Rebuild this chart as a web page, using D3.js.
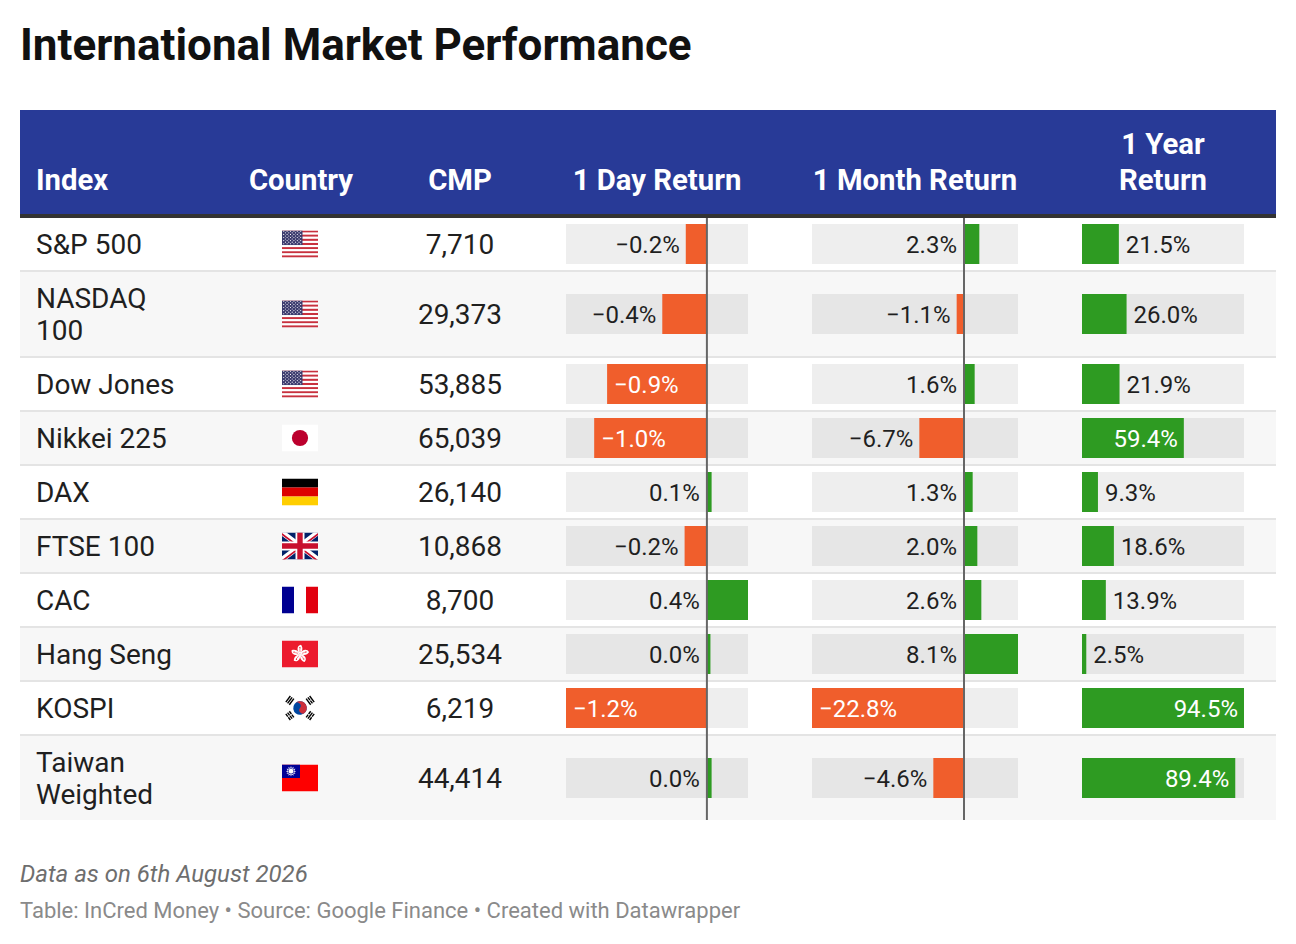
<!DOCTYPE html>
<html>
<head>
<meta charset="utf-8">
<script src="https://cdn.jsdelivr.net/npm/d3@7/dist/d3.min.js"></script>
<style>
  html, body { margin: 0; padding: 0; background: #ffffff; }
  svg { display: block; font-family: Roboto, "Noto Sans", sans-serif; }
</style>
</head>
<body>
<svg id="chart" width="1296" height="944"></svg>
<script>
// ---------------- DATA ----------------
const titleText = "International Market Performance";
const headers = ["Index", "Country", "CMP", "1 Day Return", "1 Month Return", "1 Year Return"];
const indices = ["S&P 500", "NASDAQ 100", "Dow Jones", "Nikkei 225", "DAX", "FTSE 100", "CAC", "Hang Seng", "KOSPI", "Taiwan Weighted"];
const countries = ["US", "US", "US", "JP", "DE", "GB", "FR", "HK", "KR", "TW"];
const cmp = [7710, 29373, 53885, 65039, 26140, 10868, 8700, 25534, 6219, 44414];
// 1-day bar values and their printed labels
const dayReturn = [-0.18, -0.38, -0.85, -0.96, 0.04, -0.19, 0.35, 0.03, -1.2, 0.04];
const dayLabels = ["−0.2%", "−0.4%", "−0.9%", "−1.0%", "0.1%", "−0.2%", "0.4%", "0.0%", "−1.2%", "0.0%"];
const monthReturn = [2.3, -1.1, 1.6, -6.7, 1.3, 2.0, 2.6, 8.1, -22.8, -4.6];
const yearReturn = [21.5, 26.0, 21.9, 59.4, 9.3, 18.6, 13.9, 2.5, 94.5, 89.4];
const notes = "Data as on 6th August 2026";
const sourceText = "Table: InCred Money • Source: Google Finance • Created with Datawrapper";

// ---------------- STYLE / LAYOUT ----------------
const svg = d3.select("#chart");
const tableL = 20, tableR = 1276;
const headTop = 110, headBot = 214, borderH = 4;
const bodyTop = headBot + borderH;
const bodyFont = 28, headFont = 29.3, labelFont = 24;
const textColor = "#1f1f1f";
const neg = "#f05e2c", pos = "#2e9b22";
const headerBlue = "#283a97";

const fmt1 = d3.format(".1f");
const fmtInt = d3.format(",");
const monthLabels = monthReturn.map(v => fmt1(v) + "%");
const yearLabels = yearReturn.map(v => fmt1(v) + "%");

// measurement helper
const meas = svg.append("text").attr("visibility", "hidden");
function textW(str, size, weight) {
  meas.attr("font-size", size).attr("font-weight", weight || 400).text(str);
  return meas.node().getComputedTextLength();
}
function wrap(str, maxW, size, weight) {
  const words = str.split(" ");
  const lines = [];
  let cur = "";
  words.forEach(w => {
    const t = cur ? cur + " " + w : w;
    if (cur && textW(t, size, weight) > maxW) { lines.push(cur); cur = w; }
    else cur = t;
  });
  lines.push(cur);
  return lines;
}

// Title
svg.append("text")
  .attr("x", 20).attr("y", 60)
  .attr("font-size", 44).attr("font-weight", 700)
  .attr("fill", "#111").text(titleText);

// Header
svg.append("rect").attr("x", tableL).attr("y", headTop)
  .attr("width", tableR - tableL).attr("height", headBot - headTop).attr("fill", headerBlue);
svg.append("rect").attr("x", tableL).attr("y", headBot)
  .attr("width", tableR - tableL).attr("height", borderH).attr("fill", "#333333");

// column geometry
const dayRange = [566, 748], monthRange = [812, 1018], yearRange = [1082, 1244];
const headerX = [36, 301, 460, (dayRange[0] + dayRange[1]) / 2, (monthRange[0] + monthRange[1]) / 2, (yearRange[0] + yearRange[1]) / 2];
const headerAnchor = ["start", "middle", "middle", "middle", "middle", "middle"];
const headerMaxW = [150, 140, 130, 220, 240, 165];

headers.forEach((h, i) => {
  const lines = wrap(h, headerMaxW[i], headFont, 700);
  const t = svg.append("text").attr("font-size", headFont).attr("font-weight", 700)
    .attr("fill", "#ffffff").attr("text-anchor", headerAnchor[i]);
  lines.forEach((ln, k) => {
    t.append("tspan").attr("x", headerX[i]).attr("y", 190 - (lines.length - 1 - k) * 36).text(ln);
  });
});

// Row geometry
const indexLines = indices.map(s => wrap(s, 150, bodyFont, 400));
const rowH = indexLines.map(l => 52 + (l.length - 1) * 32);
const sepH = 2;
const rowTop = [];
let yy = bodyTop;
rowH.forEach((h, i) => { rowTop.push(yy); yy += h + (i < rowH.length - 1 ? sepH : 0); });
const bodyBottom = yy;

const rows = svg.append("g");
indices.forEach((name, i) => {
  const top = rowTop[i], h = rowH[i];
  rows.append("rect").attr("x", tableL).attr("y", top).attr("width", tableR - tableL)
    .attr("height", h).attr("fill", i % 2 === 0 ? "#ffffff" : "#f7f7f7");
  if (i < indices.length - 1) {
    rows.append("rect").attr("x", tableL).attr("y", top + h).attr("width", tableR - tableL)
      .attr("height", sepH).attr("fill", "#e4e4e4");
  }
});

// scales
const xDay = d3.scaleLinear().domain(d3.extent([0, ...dayReturn])).range(dayRange);
const xMonth = d3.scaleLinear().domain(d3.extent([0, ...monthReturn])).range(monthRange);
const xYear = d3.scaleLinear().domain(d3.extent([0, ...yearReturn])).range(yearRange);

const cells = svg.append("g");
const barsG = svg.append("g");
const zeroG = svg.append("g");
const labelG = svg.append("g");
const flagsG = svg.append("g");

const barH = 40;

indices.forEach((name, i) => {
  const top = rowTop[i], h = rowH[i], cy = top + h / 2;
  // index name
  const lines = indexLines[i];
  const t = cells.append("text").attr("font-size", bodyFont).attr("fill", textColor);
  lines.forEach((ln, k) => {
    t.append("tspan").attr("x", 36).attr("y", cy + 10 - (lines.length - 1) * 16 + k * 32).text(ln);
  });
  // CMP
  cells.append("text").attr("x", 460).attr("y", cy + 10).attr("font-size", bodyFont)
    .attr("text-anchor", "middle").attr("fill", textColor).text(fmtInt(cmp[i]));

  // flag
  drawFlag(flagsG.append("g").attr("transform", `translate(282,${cy - 13.5})`), countries[i], i);

  // tracks
  [xDay, xMonth, xYear].forEach(sc => {
    const r = sc.range();
    barsG.append("rect").attr("x", r[0]).attr("y", cy - barH / 2).attr("width", r[1] - r[0])
      .attr("height", barH).attr("fill", "rgba(0,0,0,0.068)");
  });

  // diverging columns
  [[xDay, dayReturn[i], dayLabels[i]], [xMonth, monthReturn[i], monthLabels[i]]].forEach(([sc, v, lab]) => {
    const x0 = sc(0), x1 = sc(v);
    barsG.append("rect").attr("x", Math.min(x0, x1)).attr("y", cy - barH / 2)
      .attr("width", Math.abs(x1 - x0)).attr("height", barH).attr("fill", v < 0 ? neg : pos);
    const lw = textW(lab, labelFont, 400);
    const lt = labelG.append("text").attr("y", cy).attr("dy", "0.36em").attr("font-size", labelFont).text(lab);
    if (v >= 0) {
      lt.attr("x", x0 - 7).attr("text-anchor", "end").attr("fill", textColor);
    } else if (x0 - x1 >= lw + 14) {
      lt.attr("x", x1 + 7).attr("text-anchor", "start").attr("fill", "#ffffff");
    } else {
      lt.attr("x", x1 - 6).attr("text-anchor", "end").attr("fill", textColor);
    }
  });

  // year column
  {
    const v = yearReturn[i], lab = yearLabels[i];
    const x0 = xYear(0), x1 = xYear(v);
    barsG.append("rect").attr("x", x0).attr("y", cy - barH / 2)
      .attr("width", x1 - x0).attr("height", barH).attr("fill", pos);
    const lw = textW(lab, labelFont, 400);
    const lt = labelG.append("text").attr("y", cy).attr("dy", "0.36em").attr("font-size", labelFont).text(lab);
    if (x1 - x0 >= lw + 14) {
      lt.attr("x", x1 - 6).attr("text-anchor", "end").attr("fill", "#ffffff");
    } else {
      lt.attr("x", x1 + 7).attr("text-anchor", "start").attr("fill", textColor);
    }
  }
});

// zero lines
[xDay, xMonth].forEach(sc => {
  zeroG.append("line").attr("x1", sc(0)).attr("x2", sc(0))
    .attr("y1", bodyTop).attr("y2", bodyBottom)
    .attr("stroke", "#666666").attr("stroke-width", 2);
});

// footer
svg.append("text").attr("x", 20).attr("y", 882).attr("font-size", 24)
  .attr("font-style", "italic").attr("fill", "#6e6e6e").text(notes);
svg.append("text").attr("x", 20).attr("y", 918).attr("font-size", 22)
  .attr("fill", "#8a8a8a").text(sourceText);

meas.remove();

// ---------------- FLAGS ----------------
function drawFlag(g, code, idx) {
  const w = 36, h = 27;
  const cid = "clip" + idx;
  g.append("clipPath").attr("id", cid).append("rect").attr("width", w).attr("height", h);
  const f = g.append("g").attr("clip-path", `url(#${cid})`);
  if (code === "US") {
    const sh = h / 13;
    for (let k = 0; k < 13; k++) {
      f.append("rect").attr("x", 0).attr("y", k * sh).attr("width", w).attr("height", sh + 0.05)
        .attr("fill", k % 2 === 0 ? "#c8313e" : "#ffffff");
    }
    const cw = 20.5, ch = sh * 7;
    f.append("rect").attr("width", cw).attr("height", ch).attr("fill", "#3c3b6e");
    for (let r = 0; r < 9; r++) {
      const n = r % 2 === 0 ? 6 : 5;
      for (let c = 0; c < n; c++) {
        const x = (r % 2 === 0 ? 1.7 : 3.4) + c * 3.4;
        f.append("circle").attr("cx", x).attr("cy", 0.8 + r * 1.55).attr("r", 0.55).attr("fill", "#ffffff");
      }
    }
  } else if (code === "JP") {
    f.append("rect").attr("width", w).attr("height", h).attr("fill", "#ffffff");
    f.append("circle").attr("cx", w / 2).attr("cy", h / 2).attr("r", 8.1).attr("fill", "#bc002d");
  } else if (code === "DE") {
    ["#000000", "#dd0000", "#ffce00"].forEach((c, k) =>
      f.append("rect").attr("y", k * h / 3).attr("width", w).attr("height", h / 3 + 0.05).attr("fill", c));
  } else if (code === "GB") {
    f.append("rect").attr("width", w).attr("height", h).attr("fill", "#012169");
    f.append("path").attr("d", `M0,0L${w},${h}M${w},0L0,${h}`).attr("stroke", "#ffffff").attr("stroke-width", 5.4);
    f.append("path").attr("d", `M0,0L${w / 2},${h / 2}M${w},${h}L${w / 2},${h / 2}`).attr("stroke", "#c8102e").attr("stroke-width", 1.8)
      .attr("transform", "translate(-0.9,0.9)");
    f.append("path").attr("d", `M${w},0L${w / 2},${h / 2}M0,${h}L${w / 2},${h / 2}`).attr("stroke", "#c8102e").attr("stroke-width", 1.8)
      .attr("transform", "translate(0.9,0.9)");
    f.append("path").attr("d", `M${w / 2},0V${h}M0,${h / 2}H${w}`).attr("stroke", "#ffffff").attr("stroke-width", 9);
    f.append("path").attr("d", `M${w / 2},0V${h}M0,${h / 2}H${w}`).attr("stroke", "#c8102e").attr("stroke-width", 5.4);
  } else if (code === "FR") {
    ["#000091", "#ffffff", "#e1000f"].forEach((c, k) =>
      f.append("rect").attr("x", k * w / 3).attr("width", w / 3 + 0.05).attr("height", h).attr("fill", c));
  } else if (code === "HK") {
    f.append("rect").attr("width", w).attr("height", h).attr("fill", "#ec1b2e");
    const fl = f.append("g").attr("transform", `translate(${w / 2},${h / 2})`);
    for (let k = 0; k < 5; k++) {
      const p = fl.append("g").attr("transform", `rotate(${k * 72 + 10})`);
      p.append("path").attr("d", "M0,0 C-4.2,-2.5 -4.6,-7.8 -0.6,-9.2 C1.2,-7.4 2.8,-4.6 0,0 Z").attr("fill", "#ffffff");
      p.append("path").attr("d", "M-0.3,-2 Q-1.4,-5 -0.8,-6.5").attr("stroke", "#ec1b2e").attr("stroke-width", 0.5).attr("fill", "none");
      p.append("circle").attr("cx", -1.3).attr("cy", -6.2).attr("r", 0.6).attr("fill", "#ec1b2e");
    }
  } else if (code === "KR") {
    f.append("rect").attr("width", w).attr("height", h).attr("fill", "#ffffff");
    const cx = w / 2, cy = h / 2, r = 6.8;
    const ang = Math.atan2(h, w) * 180 / Math.PI;
    const tg = f.append("g").attr("transform", `translate(${cx},${cy}) rotate(${ang})`);
    tg.append("circle").attr("r", r).attr("fill", "#0047a0");
    tg.append("path").attr("d", `M${-r},0 A${r},${r} 0 0 1 ${r},0 A${r / 2},${r / 2} 0 0 1 0,0 A${r / 2},${r / 2} 0 0 0 ${-r},0 Z`).attr("fill", "#cd2e3a");
    // trigrams
    const trig = [[1, 1, 1], [0, 1, 0], [1, 0, 1], [0, 0, 0]];
    const dirs = [[-1, -1], [1, 1], [1, -1], [-1, 1]];
    dirs.forEach((d, k) => {
      const a = Math.atan2(d[1] * h, d[0] * w) * 180 / Math.PI;
      const gg = f.append("g").attr("transform", `translate(${cx},${cy}) rotate(${a}) translate(12.2,0)`);
      for (let b = 0; b < 3; b++) {
        const xx = -2.4 + b * 2.2;
        if (trig[k][b]) {
          gg.append("rect").attr("x", xx).attr("y", -3.8).attr("width", 1.4).attr("height", 7.6).attr("fill", "#000");
        } else {
          gg.append("rect").attr("x", xx).attr("y", -3.8).attr("width", 1.4).attr("height", 3.4).attr("fill", "#000");
          gg.append("rect").attr("x", xx).attr("y", 0.4).attr("width", 1.4).attr("height", 3.4).attr("fill", "#000");
        }
      }
    });
  } else if (code === "TW") {
    f.append("rect").attr("width", w).attr("height", h).attr("fill", "#fe0000");
    f.append("rect").attr("width", w / 2).attr("height", h / 2).attr("fill", "#000095");
    const cx = w / 4, cy = h / 4;
    const pts = [];
    for (let k = 0; k < 24; k++) {
      const rr = k % 2 === 0 ? 5.2 : 3.1;
      const a = k * Math.PI / 12 - Math.PI / 2;
      pts.push([cx + rr * Math.cos(a), cy + rr * Math.sin(a)]);
    }
    f.append("polygon").attr("points", pts.map(p => p.join(",")).join(" ")).attr("fill", "#ffffff");
    f.append("circle").attr("cx", cx).attr("cy", cy).attr("r", 2.9).attr("fill", "#000095");
    f.append("circle").attr("cx", cx).attr("cy", cy).attr("r", 2.4).attr("fill", "#ffffff");
  }
}
</script>
</body>
</html>
